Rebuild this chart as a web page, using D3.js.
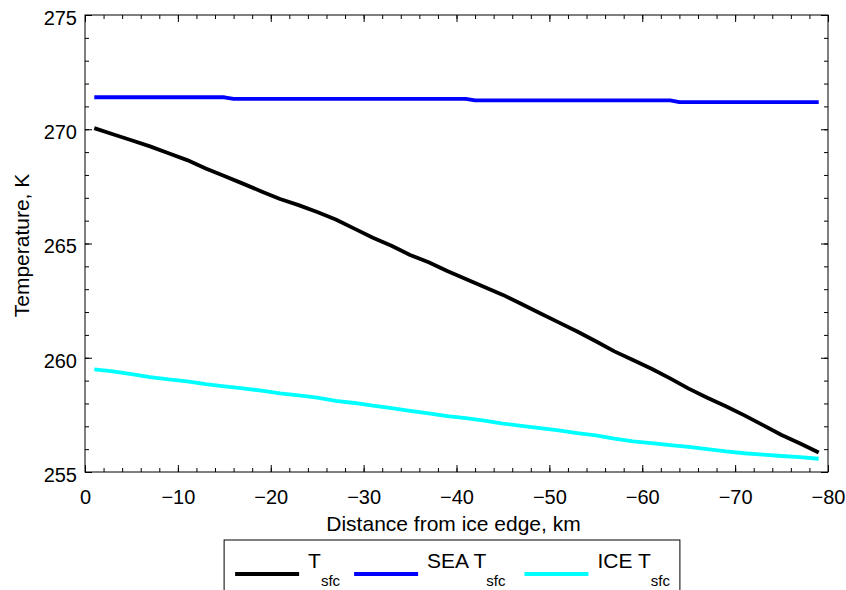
<!DOCTYPE html>
<html lang="en">
<head>
    <meta charset="UTF-8">
    <title>Surface temperature vs distance from ice edge</title>
    <script src="https://cdnjs.cloudflare.com/ajax/libs/d3/7.8.5/d3.min.js"></script>
    <style>
        body {
            margin: 0;
            background-color: white;
        }

        #chart text {
            font-family: "Liberation Sans", Arial, Helvetica, sans-serif;
            fill: black;
        }
    </style>
</head>
<body>
<section id="chart"></section>
<script>
    // distance from ice edge, km (every 2 km)
    const distance = [-1, -3, -5, -7, -9, -11, -13, -15, -17, -19, -21, -23, -25, -27, -29, -31, -33, -35, -37, -39,
        -41, -43, -45, -47, -49, -51, -53, -55, -57, -59, -61, -63, -65, -67, -69, -71, -73, -75, -77, -79];

    const tsfc = [270.05, 269.78, 269.52, 269.25, 268.95, 268.65, 268.28, 267.95, 267.62, 267.28,
        266.95, 266.68, 266.38, 266.05, 265.65, 265.25, 264.9, 264.5, 264.18, 263.8,
        263.45, 263.1, 262.75, 262.35, 261.95, 261.55, 261.15, 260.72, 260.28, 259.9,
        259.52, 259.1, 258.65, 258.25, 257.88, 257.48, 257.05, 256.62, 256.25, 255.85];

    const iceTsfc = [259.49, 259.4, 259.28, 259.15, 259.05, 258.97, 258.85, 258.75, 258.66, 258.56,
        258.44, 258.35, 258.25, 258.11, 258.02, 257.9, 257.8, 257.68, 257.57, 257.45,
        257.36, 257.25, 257.12, 257.02, 256.92, 256.82, 256.7, 256.6, 256.46, 256.34,
        256.26, 256.18, 256.1, 256.0, 255.9, 255.82, 255.76, 255.7, 255.65, 255.58];

    // sea temperature changes in small steps, so only the break points are kept
    const seaDistance = [-1, -15, -16, -41, -42, -63, -64, -79];
    const seaTsfc = [271.4, 271.4, 271.33, 271.33, 271.26, 271.26, 271.19, 271.19];

    const xMajorTicks = [0, -10, -20, -30, -40, -50, -60, -70, -80];
    const yMajorTicks = [255, 260, 265, 270, 275];

    const series = [
        {name: 'T', sub: 'sfc', color: '#000000', xs: distance, ys: tsfc},
        {name: 'SEA T', sub: 'sfc', color: '#0000ff', xs: seaDistance, ys: seaTsfc},
        {name: 'ICE T', sub: 'sfc', color: '#00ffff', xs: distance, ys: iceTsfc}
    ];

    const width = 846;
    const height = 590;
    const box = {left: 85, right: 828, top: 15, bottom: 472};

    const svg = d3.select('#chart')
        .append('svg')
        .attr('width', width)
        .attr('height', height);

    const x = d3.scaleLinear().domain([0, -80]).range([box.left, box.right]);
    const y = d3.scaleLinear().domain([255, 275]).range([box.bottom, box.top]);

    const xMinor = d3.range(0, -81, -2);
    const yMinor = d3.range(255, 276, 1);

    const styleAxis = g => {
        g.select('.domain').remove();
        g.selectAll('line').attr('stroke', 'black');
        g.attr('font-size', null).attr('font-family', null);
    };

    // minor ticks on all four sides, pointing inwards
    svg.append('g').attr('transform', `translate(0,${box.bottom})`)
        .call(d3.axisBottom(x).tickValues(xMinor).tickSize(-4).tickFormat('')).call(styleAxis);
    svg.append('g').attr('transform', `translate(0,${box.top})`)
        .call(d3.axisTop(x).tickValues(xMinor).tickSize(-4).tickFormat('')).call(styleAxis);
    svg.append('g').attr('transform', `translate(${box.left},0)`)
        .call(d3.axisLeft(y).tickValues(yMinor).tickSize(-4).tickFormat('')).call(styleAxis);
    svg.append('g').attr('transform', `translate(${box.right},0)`)
        .call(d3.axisRight(y).tickValues(yMinor).tickSize(-4).tickFormat('')).call(styleAxis);

    // major ticks
    const xAxis = svg.append('g').attr('transform', `translate(0,${box.bottom})`)
        .call(d3.axisBottom(x).tickValues(xMajorTicks).tickSize(-7).tickPadding(18).tickFormat(d3.format('d')))
        .call(styleAxis);
    xAxis.selectAll('text').style('font-size', '20px');

    svg.append('g').attr('transform', `translate(0,${box.top})`)
        .call(d3.axisTop(x).tickValues(xMajorTicks).tickSize(-7).tickFormat('')).call(styleAxis);

    const yAxis = svg.append('g').attr('transform', `translate(${box.left},0)`)
        .call(d3.axisLeft(y).tickValues(yMajorTicks).tickSize(-7).tickPadding(8).tickFormat(d3.format('d')))
        .call(styleAxis);
    yAxis.selectAll('text').style('font-size', '20px').attr('dy', '0.47em');

    svg.append('g').attr('transform', `translate(${box.right},0)`)
        .call(d3.axisRight(y).tickValues(yMajorTicks).tickSize(-7).tickFormat('')).call(styleAxis);

    svg.append('rect')
        .attr('x', box.left)
        .attr('y', box.top)
        .attr('width', box.right - box.left)
        .attr('height', box.bottom - box.top)
        .attr('fill', 'none')
        .attr('stroke', 'black')
        .attr('stroke-width', 1);

    // data lines
    const line = d3.line()
        .x(d => x(d[0]))
        .y(d => y(d[1]));

    svg.append('g')
        .selectAll('path')
        .data(series)
        .join('path')
        .attr('d', s => line(d3.zip(s.xs, s.ys)))
        .attr('fill', 'none')
        .attr('stroke', s => s.color)
        .attr('stroke-width', 3.8)
        .attr('stroke-linejoin', 'round');

    // axis labels
    svg.append('text')
        .attr('x', (box.left + box.right) / 2 - 3)
        .attr('y', 531)
        .attr('text-anchor', 'middle')
        .style('font-size', '21px')
        .text('Distance from ice edge, km');

    svg.append('text')
        .attr('transform', `translate(29,${(box.top + box.bottom) / 2 + 2}) rotate(-90)`)
        .attr('text-anchor', 'middle')
        .style('font-size', '21px')
        .text('Temperature, K');

    // legend, laid out left to right like matlab does
    const legend = svg.append('g').attr('id', 'legend');
    const lineLen = 64;
    let cursor = 11;
    series.forEach((s, i) => {
        legend.append('line')
            .attr('x1', cursor)
            .attr('x2', cursor + lineLen)
            .attr('y1', 34)
            .attr('y2', 34)
            .attr('stroke', s.color)
            .attr('stroke-width', 3.8);
        cursor += lineLen + 9;
        const t = legend.append('text')
            .attr('x', cursor)
            .attr('y', 28)
            .style('font-size', '21px');
        t.append('tspan').text(s.name);
        t.append('tspan').attr('dy', 18).style('font-size', '15px').text(s.sub);
        cursor += t.node().getComputedTextLength() + (i === 1 ? 19 : (i === 0 ? 14 : 10));
    });
    const legendWidth = cursor;
    legend.insert('rect', ':first-child')
        .attr('width', legendWidth)
        .attr('height', 70)
        .attr('fill', 'white')
        .attr('stroke', 'black')
        .attr('stroke-width', 1);
    legend.attr('transform', `translate(${452 - legendWidth / 2},540)`);
</script>
</body>
</html>
